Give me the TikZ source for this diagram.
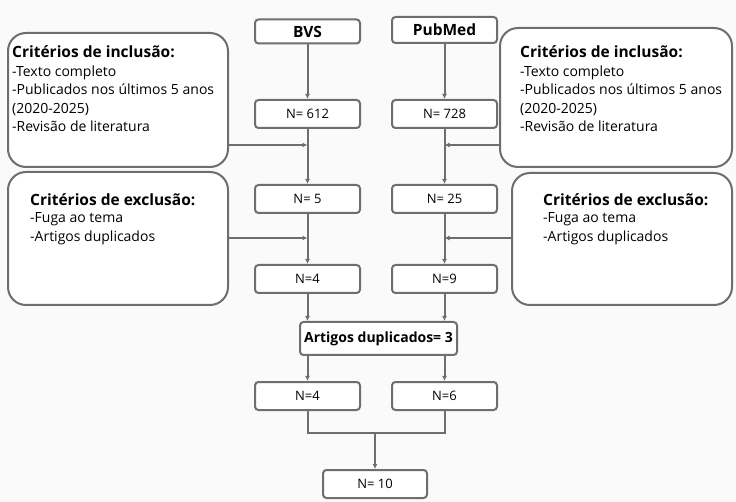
\documentclass[tikz,border=0pt]{standalone}
\usepackage{fontspec}
\setmainfont{Open Sans}
\usetikzlibrary{arrows.meta}
\definecolor{ln}{HTML}{6E6E6E}
\definecolor{bg}{HTML}{FAFAFA}
\begin{document}
\begin{tikzpicture}[x=1pt,y=-1pt,
  nbox/.style={draw=ln, line width=2pt, rounded corners=3.5pt, fill=white, inner sep=0pt,
    minimum width=105pt, minimum height=28pt, font=\fontsize{13}{15}\selectfont},
  cbox/.style={draw=ln, line width=2pt, rounded corners=18pt, fill=white, inner sep=0pt},
  ttl/.style={anchor=base west, inner sep=0pt, font=\fontsize{15.5}{18}\selectfont\bfseries},
  body/.style={anchor=base west, inner sep=0pt, align=left, font=\fontsize{14}{18.3}\selectfont},
  conn/.style={draw=ln, line width=2pt},
  arr/.style={conn, -{Latex[length=5pt,width=5pt]}}]
\useasboundingbox[fill=bg] (0,0) rectangle (736,502);

% criteria boxes
\node[cbox, minimum width=220pt, minimum height=134pt] (inclL) at (118,100) {};
\node[cbox, minimum width=220pt, minimum height=133pt] (exclL) at (118,238.5) {};
\node[cbox, minimum width=232pt, minimum height=139pt] (inclR) at (616,97.5) {};
\node[cbox, minimum width=220pt, minimum height=132pt] (exclR) at (622,239) {};

% texts (base anchor = baseline of last line)
\node[ttl] (tIL) at (12,57.5) {Critérios de inclusão:};
\node[body] (bIL) at (12,131.4) {-Texto completo\\-Publicados nos últimos 5 anos\\(2020-2025)\\-Revisão de literatura};
\node[ttl] (tEL) at (30,205.5) {Critérios de exclusão:};
\node[body] (bEL) at (30,241.3) {-Fuga ao tema\\-Artigos duplicados};
\node[ttl] (tIR) at (520,57.5) {Critérios de inclusão:};
\node[body] (bIR) at (520,131.4) {-Texto completo\\-Publicados nos últimos 5 anos\\(2020-2025)\\-Revisão de literatura};
\node[ttl] (tER) at (543,205.5) {Critérios de exclusão:};
\node[body] (bER) at (543,241.3) {-Fuga ao tema\\-Artigos duplicados};

% left column
\node[nbox, minimum height=24pt, font=\fontsize{15.5}{18}\selectfont\bfseries] (bvs) at (307.5,31.5) {BVS};
\node[nbox] (n612) at (307.5,114) {N= 612};
\node[nbox] (n5) at (307.5,199) {N= 5};
\node[nbox] (n4) at (307.5,279) {N=4};
\node[nbox] (n4b) at (307.5,396) {N=4};
% right column
\node[nbox, minimum height=26pt, font=\fontsize{15.5}{18}\selectfont\bfseries] (pub) at (444.5,30) {PubMed};
\node[nbox] (n728) at (444.5,114) {N= 728};
\node[nbox] (n25) at (444.5,199) {N= 25};
\node[nbox] (n9) at (444.5,279) {N=9};
\node[nbox] (n6) at (444.5,396) {N=6};
% middle
\node[nbox, minimum width=157pt, minimum height=33pt, font=\fontsize{14}{16}\selectfont\bfseries] (art) at (378.5,338.5) {Artigos duplicados= 3};
\node[nbox, minimum width=104pt] (n10) at (375,484) {N= 10};

% junctions
\coordinate (jIL) at (307.5,145);
\coordinate (jEL) at (307.5,238);
\coordinate (jIR) at (444.5,145);
\coordinate (jER) at (444.5,238);
\coordinate (mg) at (375,433);

\draw[arr] (bvs) -- (n612);
\draw[arr] (n612) -- (n5);
\draw[arr] (n5) -- (n4);
\draw[arr] (pub) -- (n728);
\draw[arr] (n728) -- (n25);
\draw[arr] (n25) -- (n9);
\draw[arr] (inclL.east |- jIL) -- (jIL);
\draw[arr] (exclL.east |- jEL) -- (jEL);
\draw[arr] (inclR.west |- jIR) -- (jIR);
\draw[arr] (exclR.west |- jER) -- (jER);
\draw[arr] (n4) -- (n4 |- art.north);
\draw[arr] (n9) -- (n9 |- art.north);
\draw[arr] (n4b |- art.south) -- (n4b);
\draw[arr] (n6 |- art.south) -- (n6);
\draw[conn] (n4b.south) |- (mg) -| (n6.south);
\draw[arr] (mg) -- (n10);
\end{tikzpicture}
\end{document}
